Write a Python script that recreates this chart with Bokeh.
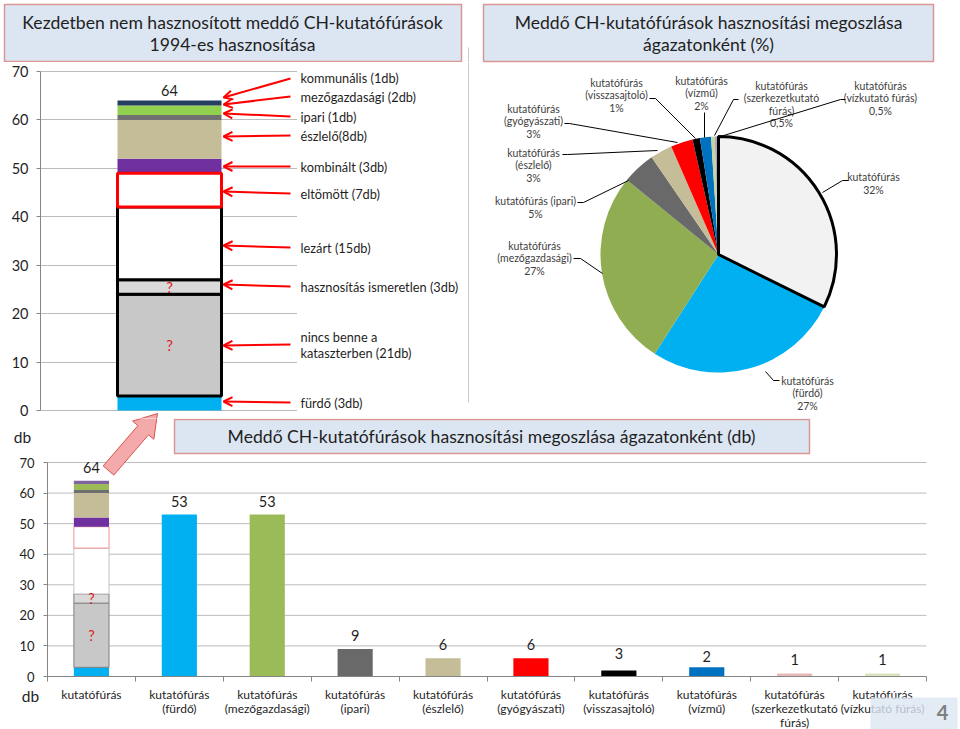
import numpy as np
from bokeh.plotting import figure
from bokeh.models import (Range1d, FixedTicker, LinearAxis, Arrow, OpenHead,
                          ColumnDataSource)
from bokeh.layouts import column, row
from bokeh.core.properties import value
from bokeh.embed import file_html
from bokeh.resources import INLINE

# ---------------- data ----------------
stack_parts = ["fürdő", "nincs benne a kataszterben", "hasznosítás ismeretlen", "lezárt",
               "eltömött", "kombinált", "észlelő", "ipari", "mezőgazdasági", "kommunális"]
stack_counts = [3, 21, 3, 15, 7, 3, 8, 1, 2, 1]
stack_labels = ["fürdő (3db)", "nincs benne a\nkataszterben (21db)", "hasznosítás ismeretlen (3db)",
                "lezárt (15db)", "eltömött (7db)", "kombinált (3db)", "észlelő(8db)",
                "ipari (1db)", "mezőgazdasági (2db)", "kommunális (1db)"]
stack_total_label = "64"
unknown_parts = ["hasznosítás ismeretlen", "nincs benne a kataszterben"]

categories = ["kutatófúrás", "kutatófúrás\n(fürdő)", "kutatófúrás\n(mezőgazdasági)",
              "kutatófúrás\n(ipari)", "kutatófúrás\n(észlelő)", "kutatófúrás\n(gyógyászati)",
              "kutatófúrás\n(visszasajtoló)", "kutatófúrás\n(vízmű)",
              "kutatófúrás\n(szerkezetkutató\nfúrás)", "kutatófúrás\n(vízkutató fúrás)"]
bar_counts = [64, 53, 53, 9, 6, 6, 2, 3, 1, 1]
bar_count_labels = ["64", "53", "53", "9", "6", "6", "3", "2", "1", "1"]

pie_labels = ["kutatófúrás\n32%", "kutatófúrás\n(fürdő)\n27%", "kutatófúrás\n(mezőgazdasági)\n27%",
              "kutatófúrás (ipari)\n5%", "kutatófúrás\n(észlelő)\n3%", "kutatófúrás\n(gyógyászati)\n3%",
              "kutatófúrás\n(visszasajtoló)\n1%", "kutatófúrás\n(vízmű)\n2%",
              "kutatófúrás\n(szerkezetkutató\nfúrás)\n0,5%", "kutatófúrás\n(vízkutató fúrás)\n0,5%"]

title_top_left = ["Kezdetben nem hasznosított meddő CH-kutatófúrások", "1994-es hasznosítása"]
title_pie = ["Meddő CH-kutatófúrások hasznosítási megoszlása", "ágazatonként (%)"]
title_bottom = "Meddő CH-kutatófúrások hasznosítási megoszlása ágazatonként (db)"
axis_unit = "db"
page_number = "4"
y_ticks = [0, 10, 20, 30, 40, 50, 60, 70]

# ---------------- styles ----------------
top_stack_colors = ["#00b0f0", "#c8c8c8", "#dadada", "#ffffff", "#ffffff", "#7030a0",
                    "#c4bd97", "#707070", "#92d050", "#243f60"]
top_stack_line = ["#000000", "#000000", "#000000", "#000000", "#ff0000", "#000000",
                  "#000000", "#000000", "#000000", "#000000"]
top_stack_outlined = [False, True, True, True, True, False, False, False, False, False]
bot_stack_colors = ["#00b0f0", "#c8c8c8", "#dadada", "#ffffff", "#ffffff", "#7030a0",
                    "#c4bd97", "#6f6f6f", "#9bbb59", "#8064a2"]
bot_stack_line = ["#000000", "#7f7f7f", "#7f7f7f", "#c0c0c0", "#f09090", "#000000",
                  "#000000", "#000000", "#000000", "#000000"]
bar_colors = ["#ffffff", "#00b0f0", "#9bbb59", "#696969", "#c4bd97", "#ff0000",
              "#000000", "#0070c0", "#e6b9b8", "#d7e4bd"]
pie_colors = ["#f2f2f2", "#00b0f0", "#90ad52", "#696969", "#c4bd97", "#ff0000",
              "#000000", "#0070c0", "#c3d69b", "#b3a2c7"]

TB_FILL = "#dce6f2"
TB_LINE = "#d99694"
GRID = "#bcbcbc"
AXIS = "#868686"
TXT = "#1f1f1f"
FONT = value("Lato")
FONTN = "Lato"


def base_fig(**kw):
    return figure(output_backend="svg", toolbar_location=None, outline_line_color=None, **kw)


# ====================== top-left title ======================
tA = base_fig(width=470, height=62, x_range=Range1d(0, 470), y_range=Range1d(-62, 0),
              x_axis_location=None, y_axis_location=None, min_border=0)
tA.grid.visible = False
tA.quad(left=[4], right=[461], top=[-4], bottom=[-61], fill_color=TB_FILL,
        line_color=TB_LINE, line_width=1.5)
tA.text(x=[232, 232], y=[-22, -44], text=title_top_left, text_align="center",
        text_baseline="middle", text_font=FONT, text_font_size="17.6px", text_color=TXT)
tA.segment(x0=[468], y0=[-47], x1=[468], y1=[-62], line_color="#c8c8c8", line_width=1)

# ====================== top-left stacked bar ======================
K = (410 - 71) / 70.0


def tv(py):
    return (410 - py) / K


def tx(px):
    return (px - 169) / 130.0


fTL = base_fig(width=297, height=356,
               x_range=Range1d(tx(40), tx(297)), y_range=Range1d(tv(418), tv(62)),
               x_axis_location=None, min_border_left=40, min_border_right=0,
               min_border_top=0, min_border_bottom=0)
fTL.yaxis.ticker = FixedTicker(ticks=y_ticks)
fTL.yaxis.bounds = (0, 70)
fTL.yaxis.axis_line_color = AXIS
fTL.yaxis.major_tick_line_color = AXIS
fTL.yaxis.major_tick_out = 4
fTL.yaxis.major_tick_in = 0
fTL.yaxis.minor_tick_line_color = None
fTL.yaxis.major_label_standoff = 8
fTL.yaxis.major_label_text_font = FONTN
fTL.yaxis.major_label_text_font_size = "14.5px"
fTL.yaxis.major_label_text_color = TXT
fTL.ygrid.grid_line_color = GRID
fTL.xgrid.visible = False

cnt = np.array(stack_counts, dtype=float)
tops = np.cumsum(cnt)
bots = tops - cnt
src_plain = ColumnDataSource(dict(
    bottom=[b for b, o in zip(bots, top_stack_outlined) if not o],
    top=[t for t, o in zip(tops, top_stack_outlined) if not o],
    color=[c for c, o in zip(top_stack_colors, top_stack_outlined) if not o]))
fTL.vbar(x=0, width=0.8, bottom="bottom", top="top", fill_color="color", line_color=None,
         source=src_plain)
src_out = ColumnDataSource(dict(
    bottom=[b for b, o in zip(bots, top_stack_outlined) if o],
    top=[t for t, o in zip(tops, top_stack_outlined) if o],
    color=[c for c, o in zip(top_stack_colors, top_stack_outlined) if o],
    lc=[c for c, o in zip(top_stack_line, top_stack_outlined) if o]))
fTL.vbar(x=0, width=0.8, bottom="bottom", top="top", fill_color="color", line_color="lc",
         line_width=3, source=src_out)
fTL.text(x=[0], y=[tops[-1] + 2.1], text=[stack_total_label], text_align="center",
         text_baseline="middle", text_font=FONT, text_font_size="14.5px", text_color=TXT)
q_mid = [(bots[stack_parts.index(n)] + tops[stack_parts.index(n)]) / 2 for n in unknown_parts]
fTL.text(x=[0, 0], y=q_mid, text=["?", "?"], text_align="center", text_baseline="middle",
         text_font=FONT, text_font_size="15px", text_color="#e0201c")

# red arrows (tail px y, tip px y) in stack order
arrow_tail_py = [402, 344, 286, 247, 193, 166, 135, 116, 96, 78]
arrow_tip_py = [401, 345, 284, 245, 191, 166, 136, 113, 104, 97]
arr_src = ColumnDataSource(dict(
    xs=[tx(290)] * 10, ys=[tv(v) for v in arrow_tail_py],
    xe=[tx(223)] * 10, ye=[tv(v) for v in arrow_tip_py]))
fTL.add_layout(Arrow(end=OpenHead(size=9, line_color="#ff0000", line_width=2),
                     x_start="xs", y_start="ys", x_end="xe", y_end="ye",
                     line_color="#ff0000", line_width=2, source=arr_src))

# pink block arrow (reference pixel outline)
pink_px = [(102.7, 465.4), (137.4, 425.1), (132.1, 420.6), (157, 413), (153.3, 438.8),
           (148, 434.3), (113.3, 474.6)]
fTL.patch(x=[tx(a) for a, b in pink_px], y=[tv(b) for a, b in pink_px],
          fill_color="#f4aaaa", line_color="#d9534f", line_width=1)

# ====================== top-left labels ======================
fLab = base_fig(width=173, height=356, x_range=Range1d(297, 470),
                y_range=fTL.y_range, x_axis_location=None, y_axis_location=None, min_border=0)
fLab.grid.visible = False
label_py = [402, 344, 286, 247, 193, 166, 135, 116, 96, 77]
fLab.text(x=[300] * 10, y=[tv(v) for v in label_py], text=stack_labels, text_align="left",
          text_baseline="middle", text_font=FONT, text_font_size="12.8px", text_color=TXT,
          text_line_height=1.0)
fLab.segment(x0=[468], y0=[tv(62)], x1=[468], y1=[tv(402)], line_color="#c8c8c8", line_width=1)

# ====================== pie ======================
fP = base_fig(width=490, height=418, x_range=Range1d(470, 960),
              y_range=Range1d(-418, 0), x_axis_location=None, y_axis_location=None,
              min_border=0)
fP.grid.visible = False
fP.quad(left=[483], right=[933], top=[-4], bottom=[-61], fill_color=TB_FILL,
        line_color=TB_LINE, line_width=1.5)
fP.text(x=[708, 708], y=[-22, -44], text=title_pie, text_align="center",
        text_baseline="middle", text_font=FONT, text_font_size="17.6px", text_color=TXT)

vals = np.array(bar_counts, dtype=float)
frac = vals / vals.sum()
c1 = np.cumsum(frac)
c0 = c1 - frac
start = np.pi / 2 - 2 * np.pi * c0
end = np.pi / 2 - 2 * np.pi * c1
pie_src = ColumnDataSource(dict(start=start[1:], end=end[1:], color=pie_colors[1:]))
fP.wedge(x=718, y=-254, radius=118, start_angle="start", end_angle="end", direction="clock",
         fill_color="color", line_color=None, source=pie_src)
fP.wedge(x=718, y=-254, radius=118, start_angle=start[0], end_angle=end[0], direction="clock",
         fill_color=pie_colors[0], line_color="#000000", line_width=3)

pie_label_xy = [(873, 183), (807, 393), (534, 258), (535, 207), (533, 165), (533, 121),
                (616, 95), (701, 93), (781, 104), (880, 98)]
fP.text(x=[a for a, b in pie_label_xy], y=[-b for a, b in pie_label_xy], text=pie_labels,
        text_align="center", text_baseline="middle", text_font=FONT,
        text_font_size="10.5px", text_color="#404040", text_line_height=1.03)
leaders = [[(848, 180), (842, 180), (822, 192)],
           [(779, 380), (773, 380), (765, 371)],
           [(573, 258), (580, 258), (602, 273)],
           [(577, 202), (583, 202), (628, 180)],
           [(562, 154), (567, 154), (657, 150)],
           [(564, 123), (569, 123), (677, 142)],
           [(649, 98), (655, 98), (695, 138)],
           [(704, 112), (704, 137)],
           [(738, 99), (733, 99), (714, 135)],
           [(845, 99), (840, 99), (720, 136)]]
fP.multi_line(xs=[[a for a, b in L] for L in leaders], ys=[[-b for a, b in L] for L in leaders],
              line_color="#000000", line_width=1)

# ====================== bottom bar chart ======================
UX = (926 - 47) / 10.0
UY = (676 - 462) / 70.0


def bx(px):
    return (px - 47) / UX


def by(py):
    return (676 - py) / UY


fB = base_fig(width=960, height=311, x_range=Range1d(bx(0), bx(960)),
              y_range=Range1d(by(729), by(418)), x_axis_location=None,
              y_axis_location=None, min_border=0)
fB.grid.visible = False

# grid lines limited to the plot area
fB.segment(x0=0, x1=10, y0=y_ticks, y1=y_ticks, line_color=GRID, line_width=1)

yax = LinearAxis(ticker=FixedTicker(ticks=y_ticks), fixed_location=0, bounds=(0, 70),
                 axis_line_color=AXIS, major_tick_line_color=AXIS, major_tick_out=4,
                 major_tick_in=0, minor_tick_line_color=None, major_label_standoff=9,
                 major_label_text_font=FONTN, major_label_text_font_size="13px",
                 major_label_text_color=TXT)
fB.add_layout(yax, "left")
centers = [i + 0.5 for i in range(len(categories))]
xax = LinearAxis(ticker=FixedTicker(ticks=centers, minor_ticks=list(range(11))),
                 fixed_location=0, bounds=(0, 10),
                 major_label_overrides={c: t for c, t in zip(centers, categories)},
                 axis_line_color=AXIS, major_tick_line_color=None,
                 minor_tick_line_color=AXIS, minor_tick_out=5, minor_tick_in=0,
                 major_label_standoff=4,
                 major_label_text_font=FONTN, major_label_text_font_size="12px",
                 major_label_text_color=TXT, major_label_text_line_height=0.94)
fB.add_layout(xax, "below")

# title box
fB.quad(left=[bx(174)], right=[bx(809)], top=[by(419)], bottom=[by(453)], fill_color=TB_FILL,
        line_color=TB_LINE, line_width=1.5)
fB.text(x=[bx(491)], y=[by(436)], text=[title_bottom], text_align="center",
        text_baseline="middle", text_font=FONT, text_font_size="17.6px", text_color=TXT)

# stacked first bar
bsrc = ColumnDataSource(dict(bottom=bots, top=tops, color=bot_stack_colors,
                             lc=bot_stack_line,
                             la=[1.0 if o else 0.0 for o in top_stack_outlined]))
fB.vbar(x=centers[0], width=0.4, bottom="bottom", top="top", fill_color="color",
        line_color="lc", line_alpha="la", line_width=1, source=bsrc)
fB.text(x=[centers[0]] * 2, y=q_mid, text=["?", "?"], text_align="center",
        text_baseline="middle", text_font=FONT, text_font_size="14.5px", text_color="#e0201c")

# single bars
ssrc = ColumnDataSource(dict(x=centers[1:], top=bar_counts[1:], color=bar_colors[1:]))
fB.vbar(x="x", width=0.4, bottom=0, top="top", fill_color="color", line_color=None,
        source=ssrc)
fB.text(x=centers, y=[float(v) + 4.4 for v in bar_count_labels], text=bar_count_labels,
        text_align="center", text_baseline="middle", text_font=FONT,
        text_font_size="14.5px", text_color=TXT)

# pink arrow part in bottom chart
fB.patch(x=[bx(a) for a, b in pink_px], y=[by(b) for a, b in pink_px],
         fill_color="#f4aaaa", line_color="#d9534f", line_width=1)

# unit labels
fB.text(x=[bx(22), bx(30)], y=[by(436), by(695)], text=[axis_unit, axis_unit],
        text_align="center", text_baseline="middle", text_font=FONT,
        text_font_size="15.5px", text_color=TXT)

# page number box
fB.quad(left=[bx(870)], right=[bx(957)], top=[by(697)], bottom=[by(729)],
        fill_color=TB_FILL, fill_alpha=0.8, line_color=None, level="overlay")
fB.text(x=[bx(942)], y=[by(712)], text=[page_number], text_align="center",
        text_baseline="middle", text_font=FONT, text_font_size="20px",
        text_font_style="bold", text_color="#7f7f7f", level="overlay")

layout = column(row(column(tA, row(fTL, fLab)), fP), fB)

open("out.html", "w").write(file_html(layout, INLINE))
